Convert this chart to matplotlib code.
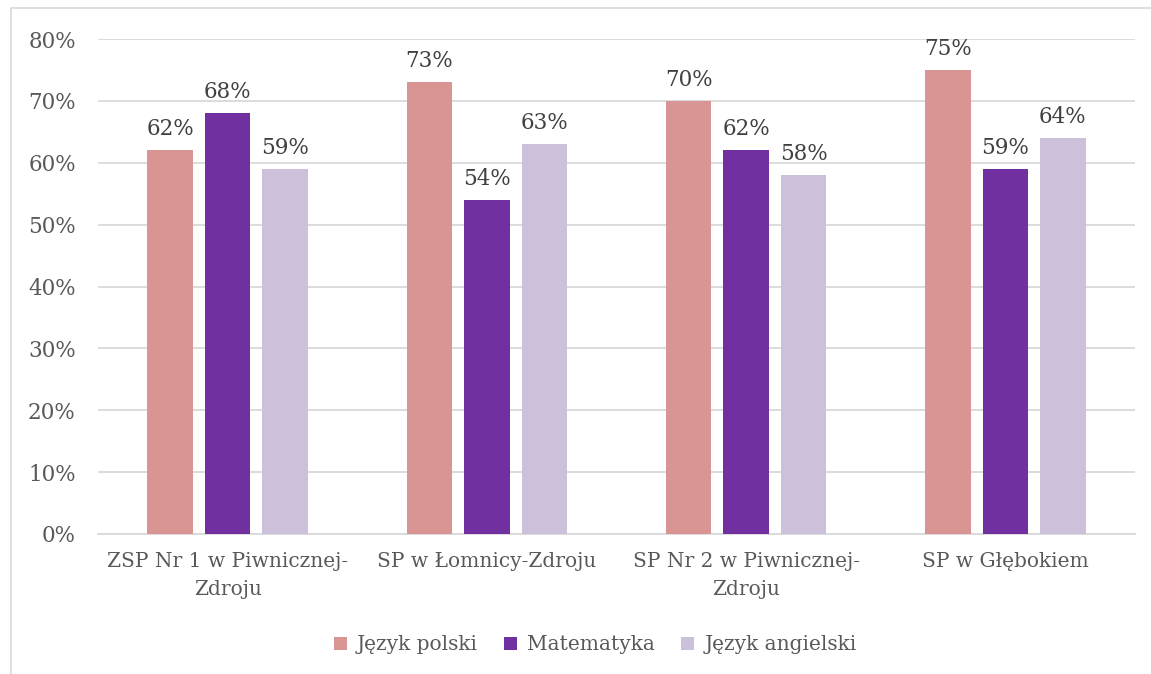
import numpy as np
from matplotlib import pyplot as plt
from matplotlib.patches import Rectangle

# Data
schools = ["ZSP Nr 1 w Piwnicznej-\nZdroju", "SP w Łomnicy-Zdroju",
           "SP Nr 2 w Piwnicznej-\nZdroju", "SP w Głębokiem"]
polski = [62, 73, 70, 75]
matematyka = [68, 54, 62, 59]
angielski = [59, 63, 58, 64]
series_names = ["Język polski", "Matematyka", "Język angielski"]
colours = ["#D99594", "#7030A0", "#CCC0DA"]

plt.rcParams['font.family'] = ['DejaVu Serif']
text_col = "#595959"
fs = 15.5
fs_small = 14.5

fig = plt.figure(figsize=(11.51, 6.74), dpi=100)
ax = fig.add_axes([98 / 1151, 1 - 534 / 674, (1135 - 98) / 1151, (534 - 39) / 674])

# outer chart border
fig.patches.append(Rectangle((11 / 1151, -0.1), 1.2, 1 - 8 / 674 + 0.1,
                             transform=fig.transFigure, fill=False,
                             edgecolor="#D9D9D9", linewidth=1.2))

x = np.arange(len(schools))
width = 0.175
offset = 0.222
all_vals = [polski, matematyka, angielski]
for i, vals in enumerate(all_vals):
    bars = ax.bar(x + (i - 1) * offset, vals, width, color=colours[i],
                  label=series_names[i], zorder=3)
    for b, v in zip(bars, vals):
        ax.text(b.get_x() + b.get_width() / 2, v + 1.6, f"{v}%",
                ha="center", va="bottom", fontsize=fs, color="#404040")

ax.set_xlim(-0.5, len(schools) - 0.5)
ax.set_ylim(0, 80)
ax.set_yticks(range(0, 81, 10))
ax.set_yticklabels([f"{t}%" for t in range(0, 81, 10)])
ax.set_xticks(x)
ax.set_xticklabels(schools, linespacing=1.6)
ax.tick_params(axis="y", length=0, labelsize=fs, colors=text_col, pad=16)
ax.tick_params(axis="x", length=0, labelsize=fs_small, colors=text_col, pad=13)
ax.grid(axis="y", color="#D9D9D9", linewidth=1.3, zorder=0)
for s in ["top", "right", "left"]:
    ax.spines[s].set_visible(False)
ax.spines["bottom"].set_color("#D9D9D9")
ax.spines["bottom"].set_linewidth(1.3)

leg = fig.legend(loc="center", bbox_to_anchor=(595 / 1151, 1 - 645 / 674), ncol=3,
                 frameon=False, fontsize=fs_small, handlelength=0.65, handleheight=0.65,
                 handletextpad=0.5, columnspacing=1.3)
for t in leg.get_texts():
    t.set_color(text_col)

fig.savefig("out.png", dpi=100)
